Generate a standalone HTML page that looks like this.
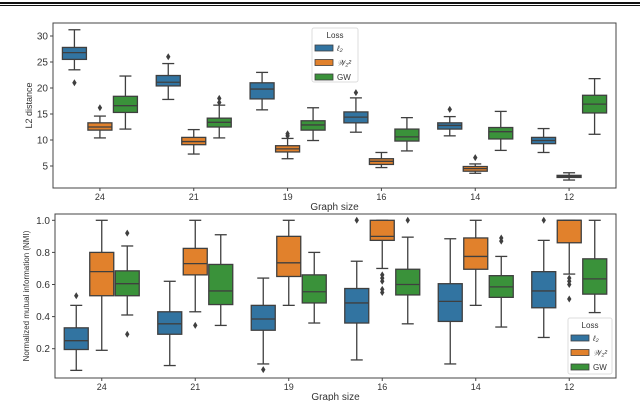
<!DOCTYPE html>
<html><head><meta charset="utf-8"><style>
body{margin:0;background:#fff;}
svg{display:block;font-family:"Liberation Sans","DejaVu Sans",sans-serif;}
</style></head><body>
<svg id="c" width="640" height="401" viewBox="0 0 640 401">
<rect x="0" y="2" width="640" height="2" fill="#111"/>
<rect x="0" y="5" width="640" height="1" fill="#111"/>
</svg>
<script>
const categories=["24","21","19","16","14","12"];
const seriesNames=["ℓ2","W","GW"];
const colors=["#3274a1","#e1812c","#3a923a"];
// each stat: [wlo,q1,med,q3,whi]
const l2Top=[[23.5,25.5,26.8,27.8,31.2],[17.8,20.4,21.1,22.4,24.7],[15.8,17.9,19.8,21.0,23.0],[11.5,13.3,14.4,15.4,18.1],[10.8,12.1,12.8,13.3,14.5],[7.6,9.3,9.9,10.5,12.2]];
const wTop=[[10.4,11.9,12.5,13.3,14.6],[7.3,9.1,9.7,10.5,12.0],[6.4,7.7,8.3,8.9,10.3],[4.7,5.3,5.9,6.4,7.6],[3.6,4.0,4.5,4.9,5.4],[2.3,2.8,3.0,3.2,3.7]];
const gwTop=[[12.1,15.3,16.6,18.4,22.3],[10.4,12.5,13.4,14.2,16.7],[9.9,11.9,12.9,13.7,16.2],[7.9,9.8,10.6,12.1,14.3],[8.0,10.2,11.6,12.4,15.5],[11.1,15.2,16.9,18.6,21.8]];
const l2TopOut=[[21],[26],[],[19.1],[15.9],[]];
const wTopOut=[[16.2],[],[10.8,11.2],[],[6.6],[]];
const gwTopOut=[[],[17.2,18.0],[],[],[],[]];
const l2Bot=[[0.065,0.195,0.25,0.33,0.47],[0.095,0.29,0.355,0.43,0.62],[0.105,0.315,0.385,0.47,0.64],[0.13,0.36,0.485,0.575,0.745],[0.105,0.37,0.495,0.605,0.885],[0.27,0.455,0.56,0.68,0.875]];
const wBot=[[0.19,0.53,0.68,0.80,1.0],[0.43,0.66,0.73,0.825,1.0],[0.47,0.65,0.735,0.90,1.0],[0.70,0.875,0.90,1.0,1.0],[0.47,0.695,0.775,0.89,1.0],[0.665,0.86,1.0,1.0,1.0]];
const gwBot=[[0.41,0.53,0.605,0.685,0.84],[0.345,0.475,0.56,0.725,0.91],[0.36,0.485,0.555,0.66,0.80],[0.355,0.535,0.60,0.695,0.895],[0.335,0.52,0.585,0.655,0.775],[0.425,0.54,0.635,0.76,1.0]];
const l2BotOut=[[0.53],[],[0.07],[1.0],[],[1.0]];
const wBotOut=[[],[0.345],[],[0.55,0.57,0.62,0.64,0.66],[],[0.51,0.60,0.62,0.64]];
const gwBotOut=[[0.29,0.92],[],[],[1.0],[0.87,0.89],[]];
const topTicks=[5,10,15,20,25,30];
const botTicks=[0.2,0.4,0.6,0.8,1.0];

const NS="http://www.w3.org/2000/svg";
const svg=document.getElementById("c");
function mk(tag,attrs,parent,text){const e=document.createElementNS(NS,tag);for(const k in attrs)e.setAttribute(k,attrs[k]);if(text!==undefined)e.textContent=text;(parent||svg).appendChild(e);return e;}

function panel(cfg){
  const g=mk("g",{});
  
  
  const y=v=>cfg.y0px-(v-cfg.v0)*cfg.scale;
  const step=(cfg.R-cfg.L)/categories.length;
  const xc=i=>cfg.L+step*(i+0.5);
  const frame=mk("rect",{x:cfg.L,y:cfg.T,width:cfg.R-cfg.L,height:cfg.B-cfg.T,fill:"none",stroke:"#444","stroke-width":1},g);
  
  
  cfg.ticks.forEach(t=>{
    mk("line",{x1:cfg.L-3,x2:cfg.L,y1:y(t),y2:y(t),stroke:"#444"},g);
    const tl=mk("text",{x:cfg.L-5,y:y(t)+3.5,"text-anchor":"end","font-size":10,fill:"#333"},g,cfg.fmt(t));
    
    
  });
  categories.forEach((c,i)=>{
    mk("line",{x1:xc(i),x2:xc(i),y1:cfg.B,y2:cfg.B+3,stroke:"#444"},g);
    const xl=mk("text",{x:xc(i),y:cfg.B+12,"text-anchor":"middle","font-size":9,fill:"#333"},g,c);
    
    
  });
  const bw=24;
  cfg.series.forEach((s,si)=>{
    s.forEach((st,i)=>{
      const cx=xc(i)+(si-1)*25.5;
      const bg=mk("g",{},g);
      
      
      mk("line",{x1:cx,x2:cx,y1:y(st[0]),y2:y(st[1]),stroke:"#3f3f3f","stroke-width":1.3},bg);
      mk("line",{x1:cx,x2:cx,y1:y(st[3]),y2:y(st[4]),stroke:"#3f3f3f","stroke-width":1.3},bg);
      mk("line",{x1:cx-6,x2:cx+6,y1:y(st[0]),y2:y(st[0]),stroke:"#3f3f3f","stroke-width":1.3},bg);
      mk("line",{x1:cx-6,x2:cx+6,y1:y(st[4]),y2:y(st[4]),stroke:"#3f3f3f","stroke-width":1.3},bg);
      mk("rect",{x:cx-bw/2,y:y(st[3]),width:bw,height:Math.max(1,y(st[1])-y(st[3])),fill:colors[si],stroke:"#3f3f3f","stroke-width":1.3},bg);
      mk("line",{x1:cx-bw/2,x2:cx+bw/2,y1:y(st[2]),y2:y(st[2]),stroke:"#3f3f3f","stroke-width":1.3},bg);
      cfg.outs[si][i].forEach(o=>{
        const d=mk("path",{d:`M${cx} ${y(o)-3.5}L${cx+2.2} ${y(o)}L${cx} ${y(o)+3.5}L${cx-2.2} ${y(o)}Z`,fill:"#3f3f3f"},bg);
        
        
      });
    });
  });
  const yl=mk("text",{transform:`translate(${cfg.ylx},${(cfg.T+cfg.B)/2}) rotate(-90)`,"text-anchor":"middle","font-size":cfg.ylfs,fill:"#333"},g,cfg.ylabel);
  
  
  const xl=mk("text",{x:(cfg.L+cfg.R)/2,y:cfg.B+22,"text-anchor":"middle","font-size":10,fill:"#333"},g,"Graph size");
  
  
  // legend
  const lg=mk("g",{},g);
  
  
  const [lx,ly,lw,lh]=cfg.legend;
  mk("rect",{x:lx,y:ly,width:lw,height:lh,rx:2,fill:"#fff",stroke:"#ddd"},lg);
  mk("text",{x:lx+lw/2,y:ly+10,"text-anchor":"middle","font-size":8,fill:"#333"},lg,"Loss");
  const labs=["ℓ₂","𝒲₂²","GW"];
  labs.forEach((l,k)=>{
    const ey=ly+20+k*14.5;
    const e=mk("g",{},lg);
    
    
    mk("rect",{x:lx+3,y:ey-3,width:18,height:6,fill:colors[k],stroke:"#3f3f3f","stroke-width":0.8},e);
    mk("text",{x:lx+25,y:ey+3,"font-size":8,fill:"#333","font-style":k<2?"italic":"normal"},e,l);
  });
}
panel({name:"l2-distance-panel",L:53,R:616,T:23,B:188,y0px:166,v0:5,scale:26/5,ticks:topTicks,fmt:t=>String(t),
  series:[l2Top,wTop,gwTop],outs:[l2TopOut,wTopOut,gwTopOut],ylabel:"L2 distance",ylx:32,ylfs:9,legend:[312,28,46,54]});
panel({name:"nmi-panel",L:55,R:616,T:214,B:378,y0px:348.7,v0:0.2,scale:160.5,ticks:botTicks,fmt:t=>t.toFixed(1),
  series:[l2Bot,wBot,gwBot],outs:[l2BotOut,wBotOut,gwBotOut],ylabel:"Normalized mutual information (NMI)",ylx:29,ylfs:8,legend:[568,318,44,56]});
</script>
</body></html>
